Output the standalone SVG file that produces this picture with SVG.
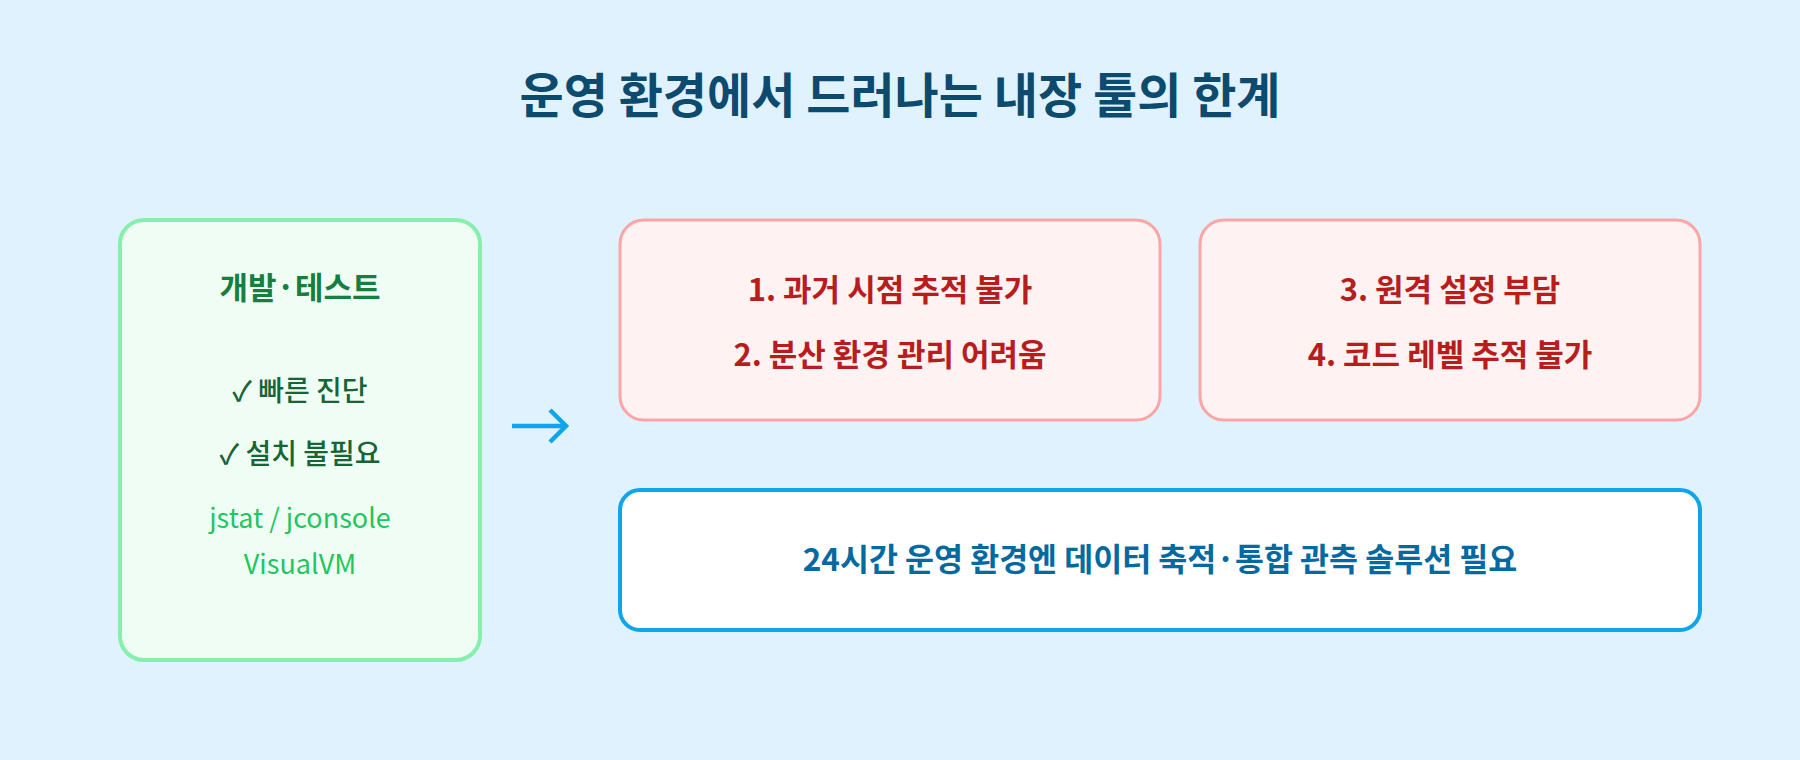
<svg xmlns="http://www.w3.org/2000/svg" width="1800" height="760" viewBox="0 0 1800 760">
<style>
text{font-family:"Noto Sans CJK KR","Noto Sans",sans-serif;text-anchor:middle}
.title{font-size:48px;font-weight:700;fill:#0c4a6e}
.gh{font-size:31px;font-weight:700;fill:#15803d}
.gi{font-size:28px;font-weight:500;fill:#166534}
.gt{font-size:27px;font-weight:400;fill:#22c55e}
.rt{font-size:31px;font-weight:700;fill:#b91c1c}
.bt{font-size:31.5px;font-weight:700;fill:#0369a1}
.red{fill:#fef2f2;stroke:#fca5a5;stroke-width:3}
</style>
<rect width="1800" height="760" fill="#e0f2fe"/>
<text class="title" x="900" y="113">운영 환경에서 드러나는 내장 툴의 한계</text>
<g id="dev">
<rect x="120" y="220" width="360" height="440" rx="24" fill="#f0fdf4" stroke="#86efac" stroke-width="4"/>
<text class="gh" x="300" y="299">개발·테스트</text>
<text class="gi" x="300" y="401">✓ 빠른 진단</text>
<text class="gi" x="300" y="464">✓ 설치 불필요</text>
<text class="gt" x="300" y="528">jstat / jconsole</text>
<text class="gt" x="300" y="574">VisualVM</text>
</g>
<g id="connectors">
<path d="M512 426 H566 M550 410 L566 426 L550 442" fill="none" stroke="#0ea5e9" stroke-width="4.5"/>
</g>
<g id="limit12">
<rect class="red" x="620" y="220" width="540" height="200" rx="24"/>
<text class="rt" x="890" y="301">1. 과거 시점 추적 불가</text>
<text class="rt" x="890" y="366">2. 분산 환경 관리 어려움</text>
</g>
<g id="limit34">
<rect class="red" x="1200" y="220" width="500" height="200" rx="24"/>
<text class="rt" x="1450" y="301">3. 원격 설정 부담</text>
<text class="rt" x="1450" y="366">4. 코드 레벨 추적 불가</text>
</g>
<g id="solution">
<rect x="620" y="490" width="1080" height="140" rx="20" fill="#ffffff" stroke="#0ea5e9" stroke-width="4"/>
<text class="bt" x="1160" y="571">24시간 운영 환경엔 데이터 축적·통합 관측 솔루션 필요</text>
</g>
</svg>
